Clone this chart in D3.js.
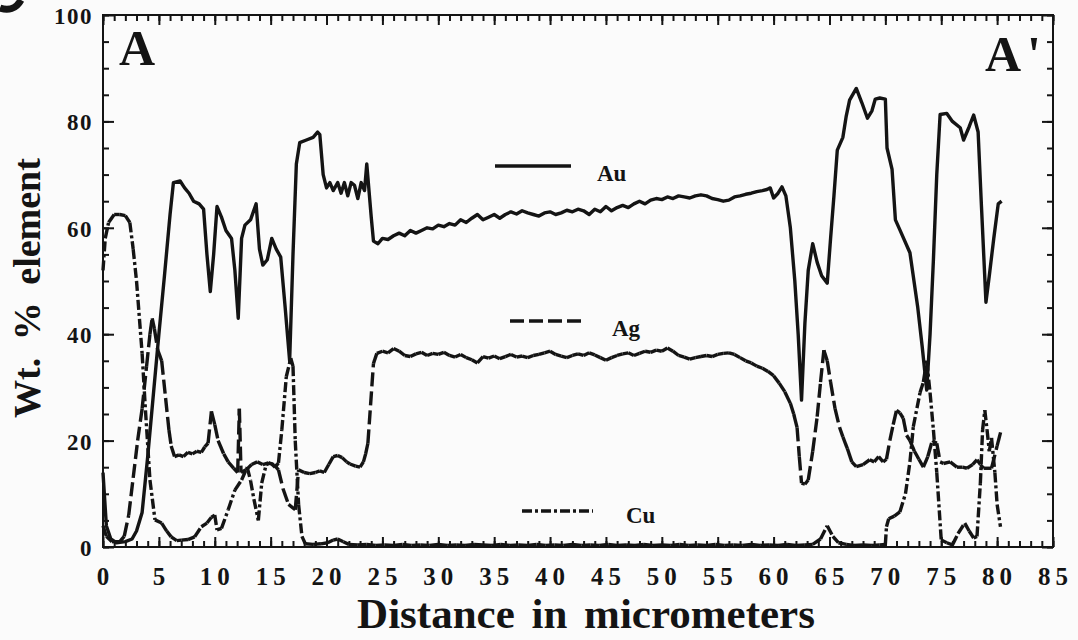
<!DOCTYPE html>
<html>
<head>
<meta charset="utf-8">
<script src="https://cdn.jsdelivr.net/npm/d3@7"></script>
<style>
  html, body { margin: 0; padding: 0; background: #fbfbfb; }
  svg { display: block; }
  text { font-family: "Liberation Serif", "Times New Roman", serif; font-weight: bold; fill: #141414; }
</style>
</head>
<body>
<svg id="chart" width="1078" height="640"></svg>
<script>
// Line-scan profile across the grain, A to A' (wt. % of each element vs. distance in µm)
const auProfile = [
  [0,14],[0.3,4],[0.7,1.5],[1.2,0.8],[2.0,1.0],[2.6,1.5],[3.0,3],[3.5,6.5],[4.0,17],[4.5,28.5],
  [5.0,40],[5.5,51],[6.0,62.5],[6.3,68.5],[6.9,68.8],[7.3,67.5],[7.7,66.5],[8.1,65],[8.6,64.5],[9.0,63.5],
  [9.3,55],[9.6,48],[9.9,55],[10.2,64],[10.6,62],[11.0,59.5],[11.5,58],[11.8,52],[12.1,43],[12.4,58],
  [12.7,60.5],[13.2,61.5],[13.7,64.5],[14.0,56],[14.3,53],[14.7,54],[15.1,58],[15.5,56],[15.9,54.5],[16.3,45],
  [16.7,35],[17.0,55],[17.3,72],[17.6,76],[18.2,76.5],[18.8,77],[19.2,78],[19.4,77.5],[19.7,70],[20.0,67.5],
  [20.3,68.5],[20.6,67],[21.0,68.5],[21.3,66.5],[21.6,68.5],[21.9,66],[22.2,68.5],[22.5,68],[22.8,65.5],[23.1,68.5],
  [23.4,67],[23.6,72],[23.8,67],[24.0,62],[24.2,57.5],[24.6,57],[25.0,58],[25.5,57.8],[26.0,58.5],[26.5,59],
  [27.0,58.5],[27.5,59.5],[28.0,59],[28.5,59.5],[29.0,60],[29.5,59.8],[30.0,60.5],[30.5,60.2],[31.0,60.8],[31.5,60.5],
  [32.0,61.5],[32.5,61],[33.0,61.8],[33.5,62.5],[34.0,61.5],[34.5,62],[35.0,62.5],[35.5,61.8],[36.0,62.5],[36.5,63],
  [37.0,62.6],[37.5,63.2],[38.0,62.8],[38.5,62.5],[39.0,62.2],[39.5,62.8],[40.0,63],[40.5,62.5],[41.0,62.8],[41.5,63.3],
  [42.0,63],[42.5,63.5],[43.0,63.2],[43.5,62.5],[44.0,63.5],[44.5,63],[45.0,64],[45.5,63.2],[46.0,63.8],[46.5,64.2],
  [47.0,63.8],[47.5,64.5],[48.0,65],[48.5,64.5],[49.0,65.2],[49.5,65.5],[50.0,65.3],[50.5,65.8],[51.0,65.5],[51.5,66],
  [52.0,65.8],[52.5,65.6],[53.0,66],[53.5,66.2],[54.0,66],[54.5,65.5],[55.0,65.3],[55.5,65],[56.0,65.2],[56.5,65.8],
  [57.0,66],[57.5,66.3],[58.0,66.5],[58.5,66.8],[59.0,67],[59.4,67.2],[59.7,67.5],[60.0,65.6],[60.4,66.5],[60.75,67.7],
  [61.1,66],[61.5,60],[61.9,50],[62.2,40],[62.5,27.6],[62.8,42],[63.1,52],[63.5,57],[63.9,53.5],[64.3,51],
  [64.8,49.6],[65.1,58],[65.4,66],[65.7,74.6],[66.2,77],[66.5,81],[66.8,84],[67.4,86.2],[67.9,83.5],[68.4,80.6],
  [68.8,82],[69.1,84.2],[69.5,84.4],[70.0,84.2],[70.15,75],[70.6,71],[70.9,61.5],[71.3,59.6],[72.2,55.3],[72.9,45],
  [73.3,37.6],[73.7,29.5],[74.0,40],[74.3,54],[74.6,70],[74.9,81.3],[75.5,81.5],[76.0,80],[76.7,78.8],[77.0,76.5],
  [77.5,79],[77.9,81.2],[78.3,78],[78.6,64],[79.0,46],[79.3,51],[79.7,58],[80.1,64.5],[80.4,65]
];

const agProfile = [
  [0,4],[0.3,2],[0.8,1],[1.5,1],[1.9,2],[2.3,6],[2.7,13],[3.1,20],[3.5,26],[3.9,34],
  [4.2,40],[4.4,43],[4.6,41],[4.9,37],[5.25,35],[5.6,28],[5.9,22],[6.1,19],[6.4,17],[6.8,17.3],
  [7.2,17],[7.6,17.8],[8.0,17.5],[8.4,18],[8.8,17.8],[9.1,18.8],[9.4,19.5],[9.7,25.5],[10.0,23],[10.3,20],
  [10.8,17.5],[11.2,16],[11.7,14.8],[12.05,14],[12.2,26],[12.35,14],[12.8,14.5],[13.3,15.5],[13.8,16],[14.3,15.5],
  [14.8,15.8],[15.3,15.5],[15.7,14.5],[16.1,11],[16.6,8],[17.2,7],[17.5,14.5],[18.0,14],[18.5,13.8],[19.0,14],
  [19.4,14.3],[19.8,14],[20.2,15.5],[20.6,17],[21.0,17.2],[21.4,16.8],[21.8,16],[22.1,15.6],[22.6,15.2],[23.0,15],
  [23.3,16],[23.5,17.5],[23.7,19.5],[24.2,34.5],[24.5,36.4],[25.0,36.8],[25.5,36.5],[26.0,37.3],[26.5,36.8],[27.0,36],
  [27.5,35.8],[28.0,36.3],[28.5,36.6],[29.0,36],[29.5,36.4],[30.0,36.2],[30.5,36.6],[31.0,36],[31.5,35.7],[32.0,36.2],
  [32.5,35.6],[33.0,35.2],[33.5,34.6],[34.0,35.8],[34.5,35.5],[35.0,35.9],[35.5,35.4],[36.0,35.8],[36.5,36.2],[37.0,35.7],
  [37.5,35.9],[38.0,35.6],[38.5,36],[39.0,36.2],[39.5,36.5],[40.0,36.8],[40.5,36.2],[41.0,35.9],[41.5,35.6],[42.0,36],
  [42.5,36.3],[43.0,36],[43.5,36.5],[44.0,36.1],[44.5,35.6],[45.0,35.1],[45.5,35.6],[46.0,36],[46.5,36.3],[47.0,36.5],
  [47.5,36],[48.0,36.4],[48.5,36.8],[49.0,36.6],[49.5,37],[50.0,36.8],[50.5,37.4],[51.0,36.8],[51.5,36],[52.0,35.7],
  [52.5,35.3],[53.0,35.6],[53.5,35.8],[54.0,36],[54.5,35.8],[55.0,36.2],[55.5,36.4],[56.0,36.5],[56.5,36.2],[57.0,35.6],
  [57.5,35],[58.0,34.6],[58.5,34],[59.0,33.6],[59.5,33],[60.0,32.2],[60.5,30.8],[61.0,29.2],[61.5,27],[61.8,25],
  [62.1,22.5],[62.3,17],[62.5,12],[62.8,11.8],[63.1,12.6],[63.5,18],[63.9,24.5],[64.2,31],[64.5,37],[64.8,35],
  [65.1,31],[65.5,26],[65.9,22.5],[66.2,20.7],[66.6,18.5],[67.0,16],[67.4,15.1],[68.0,15.5],[68.6,16.4],[69.0,16],
  [69.4,17],[69.8,16],[70.1,16.5],[70.4,20],[70.7,23],[71.0,25.7],[71.3,25.2],[71.6,24.2],[71.9,21],[72.2,20],
  [72.6,18],[73.0,16.5],[73.4,15],[73.8,17],[74.2,20],[74.6,19.5],[74.9,16],[75.2,15.7],[75.8,16],[76.4,15],
  [76.9,15],[77.3,14.8],[77.8,15.5],[78.2,16.4],[78.5,15.5],[78.8,14.8],[79.5,14.8],[80.0,19],[80.4,22.3]
];

const cuProfile = [
  [0,52],[0.2,58],[0.5,61],[1.0,62.5],[1.5,62.5],[2.0,62.3],[2.4,61],[2.7,56],[3.0,50],[3.5,36.4],
  [3.8,25.7],[4.2,12.6],[4.65,5.1],[5.25,4.5],[5.7,3],[6.1,1.9],[6.6,1.2],[7.0,1.3],[7.6,1.4],[8.2,1.9],
  [8.8,3.8],[9.3,4.5],[9.7,5.6],[10.0,6],[10.2,3.2],[10.6,3.5],[11.2,7],[11.8,10.7],[12.4,12.6],[12.9,15],
  [13.2,12.5],[13.5,9],[13.9,5],[14.2,12],[14.6,15.5],[15.0,15.8],[15.4,15],[15.7,15.8],[16.0,22],[16.4,32],
  [16.8,35.5],[17.0,34],[17.2,20],[17.5,8],[17.8,2],[18.1,0.6],[18.8,0.5],[19.5,0.6],[20.1,0.8],[20.6,1.3],
  [21.0,1.5],[21.5,1.0],[22.0,0.5],[22.8,0.4],[23.6,0.5],[24.4,0.3],[25.2,0.4],[26.0,0.3],[26.8,0.5],[27.6,0.3],
  [28.4,0.4],[29.2,0.3],[30.0,0.5],[30.8,0.3],[31.6,0.4],[32.4,0.3],[33.2,0.5],[34.0,0.4],[34.8,0.3],[35.6,0.5],
  [36.4,0.3],[37.2,0.4],[38.0,0.3],[38.8,0.5],[39.6,0.3],[40.4,0.4],[41.2,0.3],[42.0,0.5],[42.8,0.3],[43.6,0.4],
  [44.4,0.3],[45.2,0.5],[46.0,0.3],[46.8,0.4],[47.6,0.3],[48.4,0.5],[49.2,0.3],[50.0,0.4],[50.8,0.3],[51.6,0.5],
  [52.4,0.3],[53.2,0.4],[54.0,0.3],[54.8,0.5],[55.6,0.3],[56.4,0.4],[57.2,0.3],[58.0,0.5],[58.8,0.3],[59.6,0.4],
  [60.4,0.3],[61.2,0.5],[62.0,0.3],[62.8,0.4],[63.5,0.5],[64.2,1.5],[64.8,4],[65.3,2],[65.8,0.8],[66.5,0.5],
  [67.2,0.3],[68.0,0.4],[68.8,0.3],[69.5,0.4],[70.0,0.5],[70.1,3.8],[70.3,5.3],[70.8,5.8],[71.3,6.6],[71.8,10],
  [72.2,16],[72.5,22.6],[73.1,29],[73.4,31],[73.7,35],[74.0,29],[74.3,22],[74.6,14],[75.0,1.3],[75.5,0.8],
  [76.0,0.4],[76.5,2.5],[77.1,4.5],[77.5,3],[77.9,1.7],[78.2,2],[78.5,12],[78.7,22],[78.9,25.7],[79.1,22],
  [79.3,18],[79.5,20.5],[79.8,14],[80.0,8],[80.3,3.8]
];

const xMajorTicks = [0,5,10,15,20,25,30,35,40,45,50,55,60,65,70,75,80,85];
const yMajorTicks = [0,20,40,60,80,100];
const legendItems = [
  { name: "Au", dash: null },
  { name: "Ag", dash: "14,5" },
  { name: "Cu", dash: "10,3,3,3" }
];

const svg = d3.select("#chart");
const frame = { left: 103, right: 1053, top: 15, bottom: 547 };

const x = d3.scaleLinear().domain([0, 85]).range([frame.left, frame.right]);
const y = d3.scaleLinear().domain([0, 100]).range([frame.bottom, frame.top]);
const line = d3.line().x(d => x(d[0])).y(d => y(d[1]));

const ink = "#141414";

// Frame
svg.append("rect")
  .attr("x", frame.left).attr("y", frame.top)
  .attr("width", frame.right - frame.left).attr("height", frame.bottom - frame.top)
  .attr("fill", "none").attr("stroke", ink).attr("stroke-width", 2);

// Inward ticks on all four sides
function tickAxis(axisFn, scale, values, size, transform) {
  const g = svg.append("g").attr("transform", transform)
    .call(axisFn(scale).tickValues(values).tickSize(size).tickFormat(""));
  g.select(".domain").remove();
  g.selectAll(".tick line").attr("stroke", ink).attr("stroke-width", 2);
}
const xMinor = d3.range(0, 86, 1);
const yMinor = d3.range(0, 101, 5);
tickAxis(d3.axisBottom, x, xMinor, -6, `translate(0,${frame.bottom})`);
tickAxis(d3.axisBottom, x, xMajorTicks, -10, `translate(0,${frame.bottom})`);
tickAxis(d3.axisTop, x, xMinor, -6, `translate(0,${frame.top})`);
tickAxis(d3.axisTop, x, xMajorTicks, -10, `translate(0,${frame.top})`);
tickAxis(d3.axisLeft, y, yMinor, -6, `translate(${frame.left},0)`);
tickAxis(d3.axisLeft, y, yMajorTicks, -11, `translate(${frame.left},0)`);
tickAxis(d3.axisRight, y, yMinor, -6, `translate(${frame.right},0)`);
tickAxis(d3.axisRight, y, yMajorTicks, -11, `translate(${frame.right},0)`);

// Tick labels
const xLabelSpacing = 5;
svg.append("g").selectAll("text").data(xMajorTicks).join("text")
  .attr("x", d => x(d) + xLabelSpacing / 2)
  .attr("y", 585)
  .attr("text-anchor", "middle")
  .attr("font-size", 25)
  .attr("letter-spacing", xLabelSpacing)
  .text(d => d);

svg.append("g").selectAll("text").data(yMajorTicks).join("text")
  .attr("x", 93)
  .attr("y", d => y(d) + 9)
  .attr("text-anchor", "end")
  .attr("font-size", 23)
  .attr("letter-spacing", 1.5)
  .text(d => d);

// Axis titles
svg.append("text")
  .attr("x", 586).attr("y", 628)
  .attr("text-anchor", "middle")
  .attr("font-size", 43)
  .attr("word-spacing", 6)
  .text("Distance in micrometers");

svg.append("text")
  .attr("transform", "translate(40,288) rotate(-90)")
  .attr("text-anchor", "middle")
  .attr("font-size", 38)
  .attr("word-spacing", 8)
  .text("Wt. % element");

// Corner of the panel letter, clipped by the page edge
svg.append("path")
  .attr("d", "M0,8 C8,11 16,9 21,0")
  .attr("fill", "none").attr("stroke", ink).attr("stroke-width", 7);

// End-point markers of the scan line
svg.append("text").attr("x", 119).attr("y", 65).attr("font-size", 50).text("A");
svg.append("text").attr("x", 985).attr("y", 71).attr("font-size", 50)
  .attr("letter-spacing", 6).text("A'");

// Profiles: the dash pattern restarts at every sample, so closely spaced
// samples read as a continuous stroke and steep jumps show the dashes.
const plot = svg.append("g")
  .attr("fill", "none").attr("stroke", ink).attr("stroke-width", 3.4)
  .attr("stroke-linejoin", "round");

plot.append("path").datum(auProfile).attr("d", line);

function segmented(data, dash) {
  plot.append("g").selectAll("path").data(d3.pairs(data)).join("path")
    .attr("d", d => line(d))
    .attr("stroke-dasharray", dash);
}
segmented(agProfile, legendItems[1].dash);
segmented(cuProfile, legendItems[2].dash);

// Legend
const legendPos = [
  { x1: 495, x2: 571, y: 166, tx: 597, ty: 181 },
  { x1: 510, x2: 585, y: 321, tx: 612, ty: 336 },
  { x1: 522, x2: 593, y: 511, tx: 626, ty: 523 }
];
legendItems.forEach((item, i) => {
  const p = legendPos[i];
  svg.append("line")
    .attr("x1", p.x1).attr("x2", p.x2).attr("y1", p.y).attr("y2", p.y)
    .attr("stroke", ink).attr("stroke-width", 3.4)
    .attr("stroke-dasharray", item.dash);
  svg.append("text").attr("x", p.tx).attr("y", p.ty)
    .attr("font-size", 23).text(item.name);
});
</script>
</body>
</html>
